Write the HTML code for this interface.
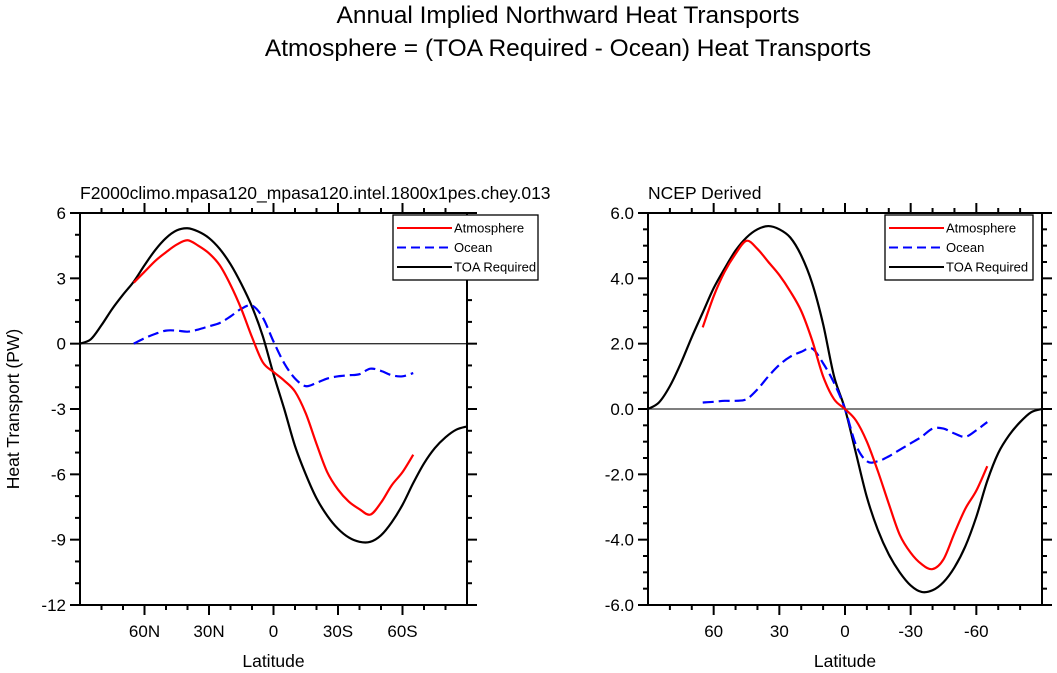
<!DOCTYPE html>
<html><head><meta charset="utf-8">
<style>
html,body{margin:0;padding:0;background:#fff;}
svg{display:block;font-family:"Liberation Sans",Arial,sans-serif;}
</style></head>
<body>
<svg id="chart" width="1057" height="673" viewBox="0 0 1057 673">
<text x="568" y="23" font-size="24.5" text-anchor="middle">Annual Implied Northward Heat Transports</text>
<text x="568" y="56" font-size="24.5" text-anchor="middle">Atmosphere = (TOA Required - Ocean) Heat Transports</text>
<g id="p1"></g>
<g id="p2"></g>
</svg>
<script>
const lats = [90,85,80,75,70,65,60,55,50,45,40,35,30,25,20,15,10,5,0,-5,-10,-15,-20,-25,-30,-35,-40,-45,-50,-55,-60,-65,-70,-75,-80,-85,-90];
const modelToa = [0,0.2,0.85,1.6,2.25,2.85,3.6,4.3,4.85,5.2,5.3,5.15,4.85,4.35,3.65,2.75,1.7,0.35,-1.4,-3.0,-4.7,-6.0,-7.1,-7.9,-8.5,-8.9,-9.1,-9.1,-8.8,-8.2,-7.4,-6.4,-5.5,-4.8,-4.3,-3.95,-3.8];
const modelAtm = [null,null,null,null,null,2.8,3.3,3.8,4.2,4.55,4.75,4.5,4.15,3.6,2.7,1.6,0.3,-0.85,-1.3,-1.7,-2.2,-3.2,-4.6,-5.9,-6.7,-7.25,-7.6,-7.85,-7.3,-6.5,-5.9,-5.1,null,null,null,null,null];
const modelOcean = [null,null,null,null,null,0,0.25,0.45,0.6,0.6,0.55,0.65,0.8,0.95,1.25,1.6,1.75,1.2,0.1,-0.9,-1.6,-1.95,-1.8,-1.6,-1.5,-1.45,-1.4,-1.15,-1.25,-1.45,-1.5,-1.35,null,null,null,null,null];
const ncepToa = [0,0.2,0.7,1.4,2.2,2.95,3.7,4.3,4.85,5.25,5.5,5.6,5.5,5.25,4.7,3.85,2.6,1.0,0,-1.35,-2.7,-3.7,-4.45,-5.0,-5.4,-5.6,-5.55,-5.3,-4.85,-4.2,-3.3,-2.2,-1.35,-0.8,-0.4,-0.1,0];
const ncepAtm = [null,null,null,null,null,2.5,3.45,4.2,4.75,5.15,4.9,4.5,4.1,3.6,3.0,2.1,1.0,0.3,0,-0.35,-1.0,-1.9,-2.9,-3.85,-4.4,-4.75,-4.9,-4.6,-3.8,-3.05,-2.5,-1.75,null,null,null,null,null];
const ncepOcean = [null,null,null,null,null,0.2,0.22,0.25,0.25,0.3,0.6,1.0,1.35,1.6,1.75,1.85,1.4,0.8,0,-1.1,-1.6,-1.6,-1.45,-1.25,-1.05,-0.85,-0.6,-0.6,-0.75,-0.85,-0.65,-0.4,null,null,null,null,null];
const xTickVals = [60,30,0,-30,-60];
const xTickLabels1 = ["60N","30N","0","30S","60S"];
const xTickLabels2 = ["60","30","0","-30","-60"];
const yTickVals1 = [6,3,0,-3,-6,-9,-12];
const yTickLabels1 = ["6","3","0","-3","-6","-9","-12"];
const yTickVals2 = [6,4,2,0,-2,-4,-6];
const yTickLabels2 = ["6.0","4.0","2.0","0.0","-2.0","-4.0","-6.0"];
const seriesNames = ["Atmosphere","Ocean","TOA Required"];

const NS="http://www.w3.org/2000/svg";
function mk(parent,tag,attrs){const e=document.createElementNS(NS,tag);for(const k in attrs)e.setAttribute(k,attrs[k]);parent.appendChild(e);return e;}

function panel(g,cfg){
  const xs=v=>cfg.x0+(90-v)/180*(cfg.x1-cfg.x0);
  const ys=v=>cfg.y0+(cfg.ymax-v)/(cfg.ymax-cfg.ymin)*(cfg.y1-cfg.y0);
  for(let v=80;v>=-80;v-=10){
    const major=v%30===0;const L=major?10:5;
    let t=mk(g,'line',{x1:xs(v),x2:xs(v),y1:cfg.y0,y2:cfg.y0-L,stroke:'#000','stroke-width':2});
    
    
    t=mk(g,'line',{x1:xs(v),x2:xs(v),y1:cfg.y1,y2:cfg.y1+L,stroke:'#000','stroke-width':2});
    
    
  }
  for(let v=cfg.ymin;v<=cfg.ymax+1e-9;v+=cfg.yminor){
    const major=Math.abs(v/cfg.ymajor-Math.round(v/cfg.ymajor))<1e-6;const L=major?10:5;
    let t=mk(g,'line',{x1:cfg.x0,x2:cfg.x0-L,y1:ys(v),y2:ys(v),stroke:'#000','stroke-width':2});
    
    
    t=mk(g,'line',{x1:cfg.x1,x2:cfg.x1+L,y1:ys(v),y2:ys(v),stroke:'#000','stroke-width':2});
    
    
  }
  xTickVals.forEach((v,i)=>{
    const t=mk(g,'text',{x:xs(v),y:cfg.y1+32,'font-size':17,'text-anchor':'middle'});
    t.textContent=cfg.xl[i];
    
    
  });
  cfg.yv.forEach((v,i)=>{
    const t=mk(g,'text',{x:cfg.x0-14,y:ys(v)+6,'font-size':17,'text-anchor':'end'});
    t.textContent=cfg.yl[i];
    
    
  });
  let z=mk(g,'line',{x1:cfg.x0,x2:cfg.x1,y1:ys(0),y2:ys(0),stroke:'#333','stroke-width':1.3});
  
  
  const series=[[cfg.toa,'#000','none','toa-required-line'],[cfg.ocean,'#0000ff','11 5','ocean-line'],[cfg.atm,'#ff0000','none','atmosphere-line']];
  series.forEach(([arr,col,dash,name])=>{
    const pts=[];arr.forEach((v,i)=>{if(v!==null)pts.push([xs(lats[i]),ys(v)]);});
    let d='M'+pts[0][0]+','+pts[0][1];
    for(let i=0;i<pts.length-1;i++){
      const p0=pts[Math.max(0,i-1)],p1=pts[i],p2=pts[i+1],p3=pts[Math.min(pts.length-1,i+2)];
      const c1=[p1[0]+(p2[0]-p0[0])/6,p1[1]+(p2[1]-p0[1])/6];
      const c2=[p2[0]-(p3[0]-p1[0])/6,p2[1]-(p3[1]-p1[1])/6];
      d+=' C'+c1[0]+','+c1[1]+' '+c2[0]+','+c2[1]+' '+p2[0]+','+p2[1];
    }
    const p=mk(g,'path',{d:d,fill:'none',stroke:col,'stroke-width':2.2,'stroke-dasharray':dash});
    
    
  });
  let b=mk(g,'rect',{x:cfg.x0,y:cfg.y0,width:cfg.x1-cfg.x0,height:cfg.y1-cfg.y0,fill:'none',stroke:'#000','stroke-width':2});
  
  
  const lg=mk(g,'g',{});
  
  
  mk(lg,'rect',{x:cfg.lx0,y:215,width:cfg.lx1-cfg.lx0,height:65,fill:'#fff',stroke:'#000','stroke-width':1.3});
  const cols=['#ff0000','#0000ff','#000'];const dashes=['none','9 5','none'];
  seriesNames.forEach((n,i)=>{
    const yy=228+i*19.5;
    const e=mk(lg,'g',{});
    
    
    mk(e,'line',{x1:cfg.lx0+4,x2:cfg.lt-2,y1:yy,y2:yy,stroke:cols[i],'stroke-width':2,'stroke-dasharray':dashes[i]});
    const t=mk(e,'text',{x:cfg.lt,y:yy+4.5,'font-size':13});
    t.textContent=n;
  });
  const st=mk(g,'text',{x:cfg.x0,y:199,'font-size':17.5});
  st.textContent=cfg.sub;
  
  
  const xl=mk(g,'text',{x:(cfg.x0+cfg.x1)/2,y:667,'font-size':17.5,'text-anchor':'middle'});
  xl.textContent='Latitude';
  
  
}
panel(document.getElementById('p1'),{x0:80,x1:467,y0:213,y1:605,ymax:6,ymin:-12,ymajor:3,yminor:1,
  yv:yTickVals1,yl:yTickLabels1,xl:xTickLabels1,toa:modelToa,atm:modelAtm,ocean:modelOcean,
  lx0:393,lx1:538,lt:454,sub:'F2000climo.mpasa120_mpasa120.intel.1800x1pes.chey.013'});
panel(document.getElementById('p2'),{x0:648,x1:1042,y0:213,y1:605,ymax:6,ymin:-6,ymajor:2,yminor:0.5,
  yv:yTickVals2,yl:yTickLabels2,xl:xTickLabels2,toa:ncepToa,atm:ncepAtm,ocean:ncepOcean,
  lx0:885,lx1:1033,lt:946,sub:'NCEP Derived'});
const yt=mk(document.getElementById('chart'),'text',{x:0,y:0,'font-size':17.5,'text-anchor':'middle',transform:'translate(19,409) rotate(-90)'});
yt.textContent='Heat Transport (PW)';


</script>
</body></html>
